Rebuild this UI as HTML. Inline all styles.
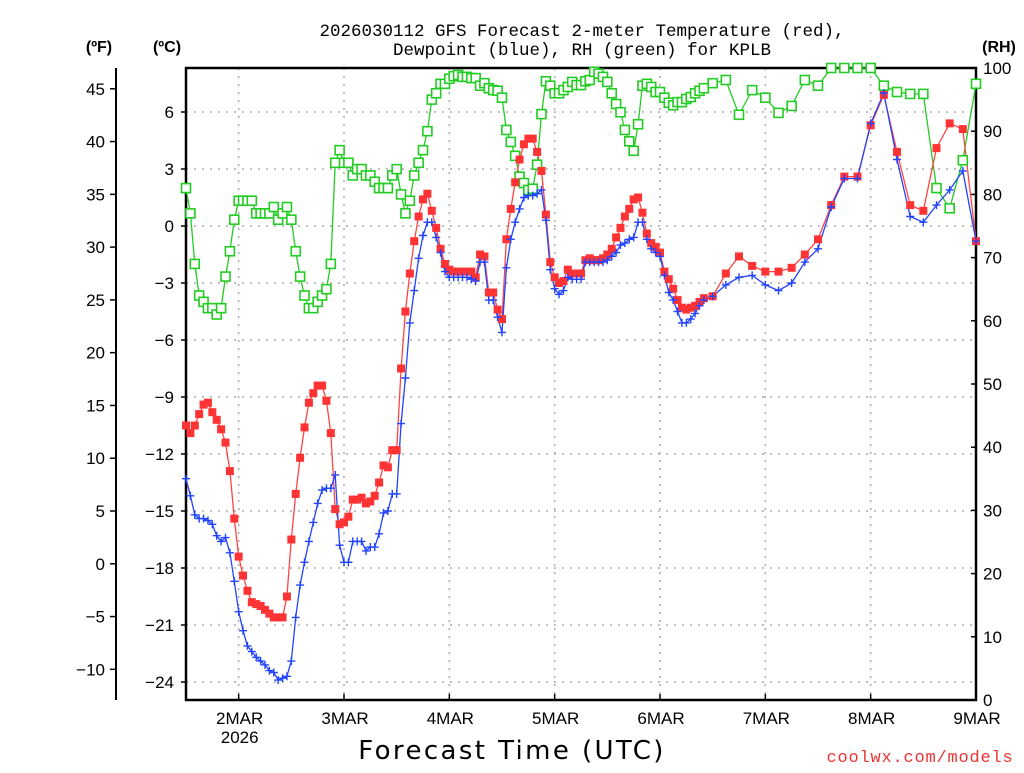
<!DOCTYPE html>
<html><head><meta charset="utf-8"><style>
body{margin:0;background:#fff}
svg text{font-family:"Liberation Sans","DejaVu Sans",sans-serif}
</style></head><body>
<svg id="chart" width="1024" height="768" viewBox="0 0 1024 768" xmlns="http://www.w3.org/2000/svg">
<text x="582" y="36" font-size="17.5" text-anchor="middle" style="font-family:'Liberation Mono',monospace">2026030112 GFS Forecast 2-meter Temperature (red),</text>
<text x="582" y="55" font-size="17.5" text-anchor="middle" style="font-family:'Liberation Mono',monospace">Dewpoint (blue), RH (green) for KPLB</text>
<text x="99" y="52" font-size="16" font-weight="bold" text-anchor="middle">(ºF)</text>
<text x="167" y="52" font-size="16" font-weight="bold" text-anchor="middle">(ºC)</text>
<text x="999" y="52" font-size="16" font-weight="bold" text-anchor="middle">(RH)</text>
<text x="512" y="759" font-size="26" text-anchor="middle" letter-spacing="2.4" style="font-family:'DejaVu Sans',sans-serif">Forecast Time (UTC)</text>
<text x="920" y="762" font-size="17" fill="#ee3333" text-anchor="middle" letter-spacing="0.8" style="font-family:'Liberation Mono',monospace">coolwx.com/models</text>
<g id="grid"></g><g id="axes"></g><g id="series"></g>
</svg>
<script>
const hours=[0,1,2,3,4,5,6,7,8,9,10,11,12,13,14,15,16,17,18,19,20,21,22,23,24,25,26,27,28,29,30,31,32,33,34,35,36,37,38,39,40,41,42,43,44,45,46,47,48,49,50,51,52,53,54,55,56,57,58,59,60,61,62,63,64,65,66,67,68,69,70,71,72,73,74,75,76,77,78,79,80,81,82,83,84,85,86,87,88,89,90,91,92,93,94,95,96,97,98,99,100,101,102,103,104,105,106,107,108,109,110,111,112,113,114,115,116,117,118,120,123,126,129,132,135,138,141,144,147,150,153,156,159,162,165,168,171,174,177,180];
const tempC=[-10.5,-10.9,-10.5,-9.9,-9.4,-9.3,-9.8,-10.2,-10.7,-11.4,
-12.9,-15.4,-17.4,-18.4,-19.2,-19.8,-19.9,-20.0,-20.2,-20.4,
-20.6,-20.6,-20.6,-19.5,-16.5,-14.1,-12.2,-10.6,-9.3,-8.8,
-8.4,-8.4,-9.2,-10.9,-14.9,-15.7,-15.6,-15.3,-14.4,-14.4,
-14.3,-14.6,-14.5,-14.2,-13.5,-12.6,-12.7,-11.8,-11.8,-7.5,
-4.5,-2.5,-0.8,0.5,1.4,1.7,0.8,-0.1,-1.2,-2.0,
-2.3,-2.4,-2.4,-2.4,-2.4,-2.4,-2.7,-1.5,-1.6,-3.5,
-3.5,-4.4,-4.9,-0.7,0.9,2.3,3.5,4.3,4.6,4.6,
3.9,2.9,0.6,-1.9,-2.7,-3.0,-2.9,-2.3,-2.5,-2.5,
-2.5,-1.8,-1.7,-1.8,-1.8,-1.7,-1.5,-1.2,-0.6,-0.1,
0.5,0.9,1.4,1.5,0.7,-0.4,-0.9,-1.1,-1.4,-2.4,
-2.8,-3.3,-3.9,-4.3,-4.4,-4.3,-4.2,-4.0,-3.8,
-3.7,-2.5,-1.6,-2.1,-2.4,-2.4,-2.2,-1.5,-0.7,1.1,2.6,2.6,5.3,6.9,3.9,1.1,0.8,4.1,5.4,5.1,-0.8];
const dewC=[-13.3,-14.2,-15.2,-15.4,-15.4,-15.5,-15.7,-16.3,-16.6,-16.4,
-17.2,-18.7,-20.3,-21.3,-22.1,-22.4,-22.7,-22.9,-23.1,-23.4,
-23.5,-23.9,-23.8,-23.7,-22.9,-20.6,-18.9,-17.7,-16.6,-15.6,
-14.6,-13.9,-13.8,-13.8,-13.1,-16.8,-17.7,-17.7,-16.6,-16.6,
-16.6,-17.1,-16.9,-16.9,-16.2,-15.1,-15.0,-14.1,-14.1,-10.4,
-8.0,-5.1,-3.4,-1.7,-0.5,0.2,0.2,-0.6,-1.4,-2.4,
-2.7,-2.7,-2.7,-2.7,-2.7,-2.8,-2.9,-1.9,-1.9,-3.9,
-3.9,-4.8,-5.6,-2.2,-0.7,0.2,0.9,1.5,1.6,1.6,
1.7,1.9,0.3,-2.3,-3.3,-3.6,-3.4,-2.7,-2.8,-2.8,
-2.8,-1.9,-1.9,-1.9,-1.9,-1.9,-1.8,-1.6,-1.4,-1.0,
-0.9,-0.7,-0.6,0.2,0.2,-0.7,-1.2,-1.4,-1.6,-2.6,
-3.5,-3.9,-4.5,-5.1,-5.1,-4.9,-4.6,-4.2,-3.9,
-3.7,-3.1,-2.7,-2.6,-3.1,-3.4,-3.0,-1.9,-1.2,1.0,2.5,2.5,5.4,7.0,3.5,0.5,0.2,1.1,1.9,2.9,-0.8];
const rh=[81,77,69,64,63,62,62,61,62,67,
71,76,79,79,79,79,77,77,77,77,
78,76,77,78,76,71,67,64,62,62,
63,64,65,69,85,87,85,85,83,84,
84,83,83,82,81,81,81,83,84,80,
77,79,83,85,87,90,95,96,97.5,97.5,
98.3,98.7,98.9,98.6,98.6,98.4,98.4,97.2,97.6,96.8,
96.5,96.4,95.3,90.2,88.3,86.1,82.8,81.8,80.7,80.9,
84.7,92.7,97.9,97.2,96,96,96.5,97,97.8,97.3,
97.3,97.9,98.1,99.4,99.1,98.6,97.8,96,94.3,93,
90.2,88.4,86.9,91.1,97.2,97.5,97,96.2,96.2,95.3,
94.5,94.1,94.6,94.6,95.1,95.4,96,96.4,96.8,
97.6,98.1,92.6,96.5,95.3,92.9,94,98.1,97.2,100,100,100,100,97.2,96.2,95.9,95.9,81,77.8,85.4,97.5];
const fTicks=[45,40,35,30,25,20,15,10,5,0,-5,-10];
const cTicks=[6,3,0,-3,-6,-9,-12,-15,-18,-21,-24];
const rhTicks=[100,90,80,70,60,50,40,30,20,10,0];
const dayLabels=["2MAR","3MAR","4MAR","5MAR","6MAR","7MAR","8MAR","9MAR"];
const dayHours=[12,36,60,84,108,132,156,180];

const NS="http://www.w3.org/2000/svg";
const L=186,R=976,T=68,B=700;
const xS=h=>L+h*(R-L)/180;
const yC=c=>226-c*19;
const yF=f=>yC((f-32)*5/9);
const yRH=v=>B-v*(B-T)/100;
function mk(tag,attrs,parent){const e=document.createElementNS(NS,tag);for(const k in attrs)e.setAttribute(k,attrs[k]);parent.appendChild(e);return e;}
const grid=document.getElementById('grid'),axes=document.getElementById('axes'),ser=document.getElementById('series');

cTicks.forEach(c=>{const y=yC(c);
 const g=mk('line',{x1:L,x2:R,y1:y,y2:y,stroke:'#aaa','stroke-dasharray':'2,6','stroke-width':1.5},grid);
 
 
 mk('line',{x1:L-5,x2:L,y1:y,y2:y,stroke:'#000','stroke-width':1.5},axes);
 const t=mk('text',{x:L-12,y:y+6,'font-size':17,'text-anchor':'end'},axes);t.textContent=c<0?'\u2212'+(-c):c;
 
 
});
fTicks.forEach(f=>{const y=yF(f);
 mk('line',{x1:110,x2:116,y1:y,y2:y,stroke:'#000','stroke-width':1.5},axes);
 const t=mk('text',{x:105,y:y+6,'font-size':17,'text-anchor':'end'},axes);t.textContent=f<0?'\u2212'+(-f):f;
 
 
});
rhTicks.forEach(v=>{const y=yRH(v);
 mk('line',{x1:R,x2:R-5,y1:y,y2:y,stroke:'#000','stroke-width':1.5},axes);
 const t=mk('text',{x:983,y:y+6,'font-size':17},axes);t.textContent=v;
 
 
});
dayHours.forEach((h,i)=>{const x=xS(h);
 if(i<dayHours.length-1){const g=mk('line',{x1:x,x2:x,y1:T,y2:B,stroke:'#aaa','stroke-dasharray':'2,6','stroke-width':1.5},grid);
 
 }
 mk('line',{x1:x,x2:x,y1:B,y2:B-6,stroke:'#000','stroke-width':1.5},axes);
 const t=mk('text',{x:x+1,y:724,'font-size':17,'text-anchor':'middle'},axes);t.textContent=dayLabels[i];
 
 
});
const yr=mk('text',{x:xS(12)+1,y:743,'font-size':17,'text-anchor':'middle'},axes);yr.textContent='2026';


const fr=mk('rect',{x:L,y:T,width:R-L,height:B-T,fill:'none',stroke:'#000','stroke-width':2.5},axes);


const fa=mk('line',{x1:116,x2:116,y1:T,y2:B,stroke:'#000','stroke-width':2},axes);



function drawLine(vals,yf,color,name){
 const pts=hours.map((h,i)=>xS(h).toFixed(1)+','+yf(vals[i]).toFixed(1)).join(' ');
 const p=mk('polyline',{points:pts,fill:'none',stroke:color,'stroke-width':1.3},ser);
 
 
}
drawLine(rh,yRH,'#22cc22','rh-line');
drawLine(tempC,yC,'#ff4444','temperature-line');
drawLine(dewC,yC,'#2244ff','dewpoint-line');
hours.forEach((h,i)=>{const x=xS(h),y=yRH(rh[i]);
 const m=mk('rect',{x:x-4.5,y:y-4.5,width:9,height:9,fill:'#fff',stroke:'#22cc22','stroke-width':1.6},ser);
 
 
});
hours.forEach((h,i)=>{const x=xS(h),y=yC(tempC[i]);
 const m=mk('rect',{x:x-4,y:y-4,width:8,height:8,fill:'#f33'},ser);
 
 
});
hours.forEach((h,i)=>{const x=xS(h),y=yC(dewC[i]);
 const m=mk('path',{d:`M${x-4},${y}H${x+4}M${x},${y-4}V${y+4}`,stroke:'#2244ff','stroke-width':1.4},ser);
 
 
});
</script>
</body></html>
